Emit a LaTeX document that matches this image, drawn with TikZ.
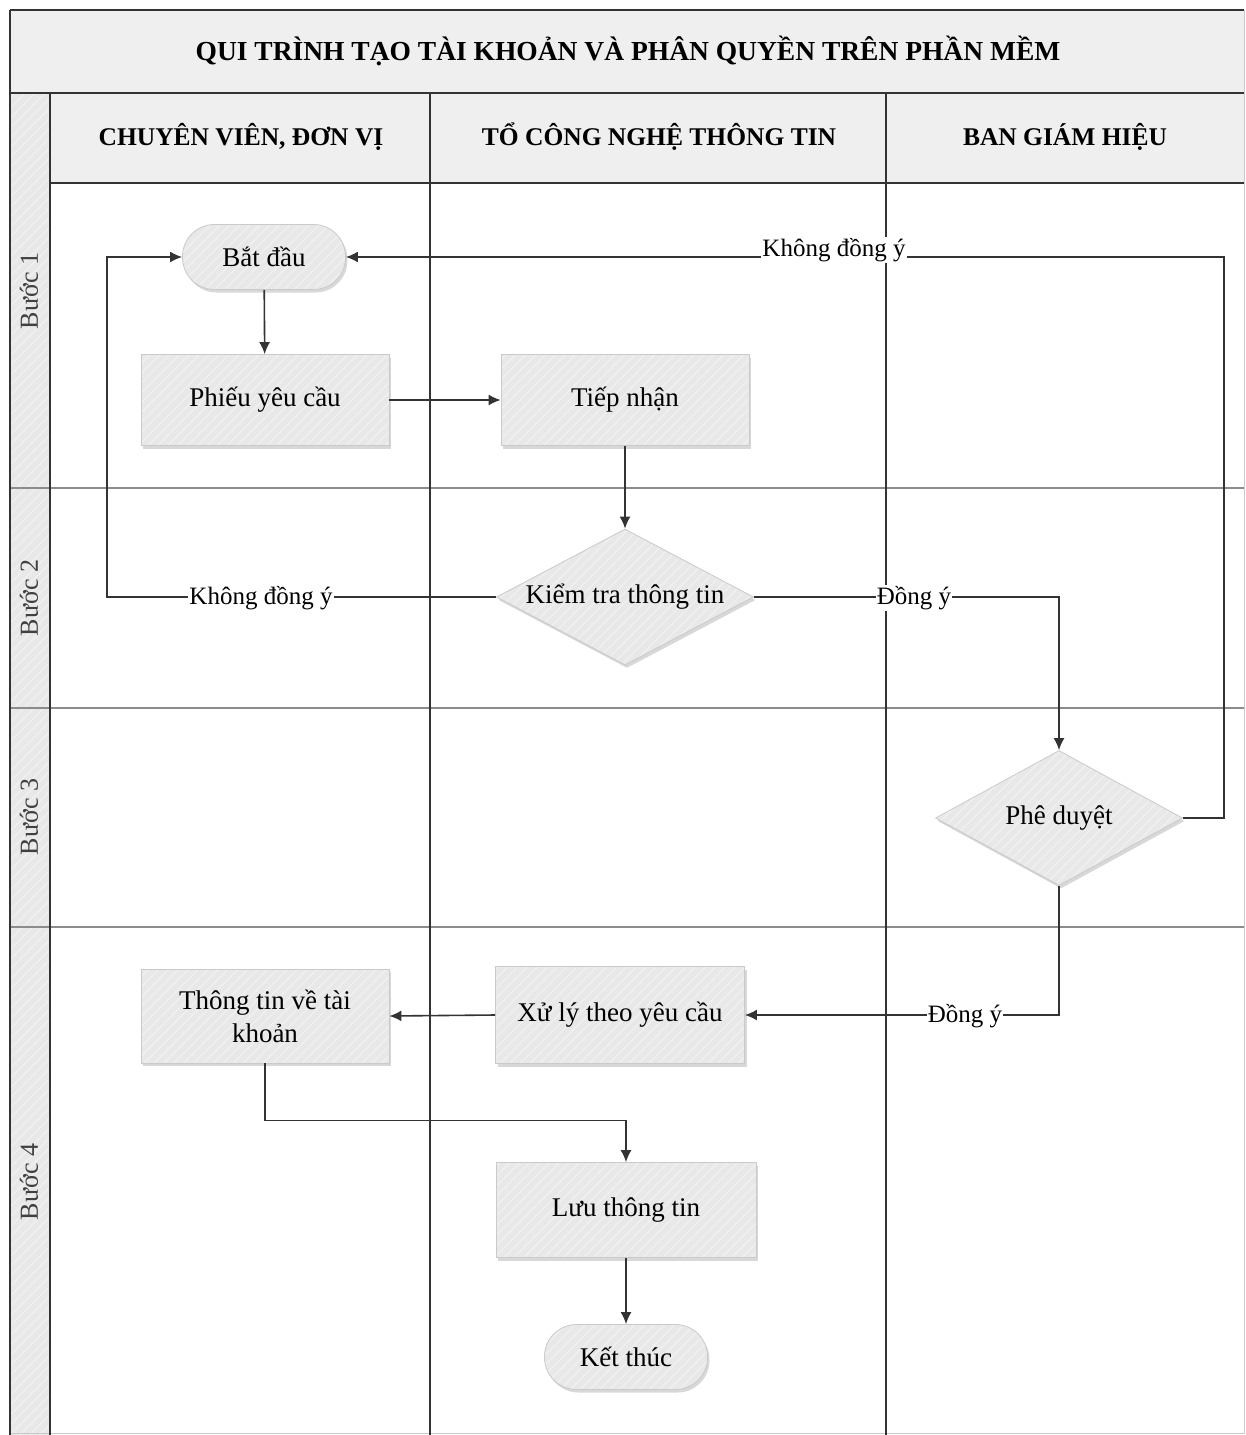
\documentclass[tikz,border=0pt]{standalone}
\usepackage{fontspec}
\setmainfont{Liberation Serif}
\usetikzlibrary{arrows.meta,shapes.geometric,shadows,patterns.meta}
\definecolor{linec}{HTML}{333333}
\definecolor{boxfill}{HTML}{E8E8E8}
\definecolor{boxdraw}{HTML}{CACACA}
\definecolor{hatchc}{HTML}{F0F0F0}
\definecolor{hdrfill}{HTML}{EFEFEF}
\definecolor{gridc}{HTML}{8C8C8C}
\definecolor{stepc}{HTML}{404040}
\begin{document}
\begin{tikzpicture}[x=1pt,y=-1pt,
  hatch/.style={pattern={Lines[angle=45,distance=7pt,line width=1.4pt]}, pattern color=hatchc},
  base/.style={draw=boxdraw, line width=0.8pt, text=black,
    font=\fontsize{27}{33}\selectfont,
    drop shadow={opacity=0.3,shadow xshift=2pt,shadow yshift=-3pt},
    preaction={fill=boxfill}, preaction={hatch}},
  procbox/.style={base, rectangle, minimum width=248pt, minimum height=91pt, inner sep=2pt},
  termbox/.style={base, rectangle, rounded corners=32pt, minimum width=163pt, minimum height=65pt},
  decbox/.style={base, diamond, aspect=1.9, minimum width=257pt, minimum height=136pt, inner sep=0pt},
  flow/.style={draw=linec, line width=1.6pt, -{Latex[length=12pt,width=11pt]}},
  lbl/.style={fill=white, inner sep=1pt, font=\fontsize{25}{29}\selectfont},
  hdr/.style={font=\bfseries\fontsize{25.5}{30}\selectfont},
  steplbl/.style={rotate=90, text=stepc, font=\fontsize{26}{30}\selectfont},
  frame/.style={draw=linec, line width=1.8pt},
  grid/.style={draw=gridc, line width=1.4pt}
]
\useasboundingbox (0,0) rectangle (1246,1435);
\fill[white] (0,0) rectangle (1246,1435);
% title band and header row
\fill[hdrfill] (10,10) rectangle (1244,93);
\fill[hdrfill] (50,93) rectangle (1244,183);
\path[fill=boxfill, postaction={hatch}] (10,93) rectangle (50,1435);
\path[fill=hdrfill, postaction={hatch}] (886,93) rectangle (1244,183);
% grid lines
\draw[grid] (10,488) -- (1244,488);
\draw[grid] (10,708) -- (1244,708);
\draw[grid] (10,927) -- (1244,927);
\draw[draw=boxdraw, line width=1pt] (1244,10) -- (1244,1433) -- (10,1433);
\draw[frame] (10,10) -- (1244,10);
\draw[frame] (10,10) -- (10,1435);
\draw[frame] (10,93) -- (1244,93);
\draw[frame] (50,93) -- (50,1435);
\draw[frame] (430,93) -- (430,1435);
\draw[frame] (886,93) -- (886,1435);
\draw[draw=linec, line width=2.4pt] (50,183) -- (1244,183);
% titles
\node[font=\bfseries\fontsize{27.5}{32}\selectfont] (title) at (628,51) {QUI TRÌNH TẠO TÀI KHOẢN VÀ PHÂN QUYỀN TRÊN PHẦN MỀM};
\node[hdr] (h1) at (241,137) {CHUYÊN VIÊN, ĐƠN VỊ};
\node[hdr] (h2) at (659,137) {TỔ CÔNG NGHỆ THÔNG TIN};
\node[hdr] (h3) at (1065,137) {BAN GIÁM HIỆU};
\node[steplbl] (s1) at (29,291) {Bước 1};
\node[steplbl] (s2) at (29,598) {Bước 2};
\node[steplbl] (s3) at (29,817) {Bước 3};
\node[steplbl] (s4) at (29,1182) {Bước 4};
% nodes
\node[termbox] (start) at (264,257) {Bắt đầu};
\node[procbox] (req) at (265,400) {Phiếu yêu cầu};
\node[procbox] (recv) at (625,400) {Tiếp nhận};
\node[decbox] (check) at (625,597) {Kiểm tra thông tin};
\node[decbox, minimum width=247pt, minimum height=135pt, aspect=1.83] (approve) at (1059,818) {Phê duyệt};
\node[procbox, minimum width=249pt, minimum height=97pt] (proc) at (620,1015) {Xử lý theo yêu cầu};
\node[procbox, minimum height=94pt, align=center] (info) at (265,1016) {Thông tin về tài\\khoản};
\node[procbox, minimum width=260pt, minimum height=95pt] (save) at (626,1210) {Lưu thông tin};
\node[termbox] (end) at (626,1357) {Kết thúc};
% connectors
\draw[flow] (start) -- (req);
\draw[flow] (req) -- (recv);
\draw[flow] (recv) -- (check);
\draw[flow] (check.west) -- ++(-389,0) |- (start.west);
\draw[flow] (check.east) -| (approve.north);
\draw[flow] (approve.east) -- ++(41,0) |- (start.east);
\draw[flow] (approve.south) |- (proc.east);
\draw[flow] (proc.west) -- (info.east);
\draw[flow] (info.south) -- ++(0,57) -| (save.north);
\draw[flow] (save) -- (end);
% labels
\node[lbl] (l1) at (834,250) {Không đồng ý};
\node[lbl] (l2) at (261,598) {Không đồng ý};
\node[lbl] (l3) at (914,598) {Đồng ý};
\node[lbl] (l4) at (965,1016) {Đồng ý};
\end{tikzpicture}
\end{document}
